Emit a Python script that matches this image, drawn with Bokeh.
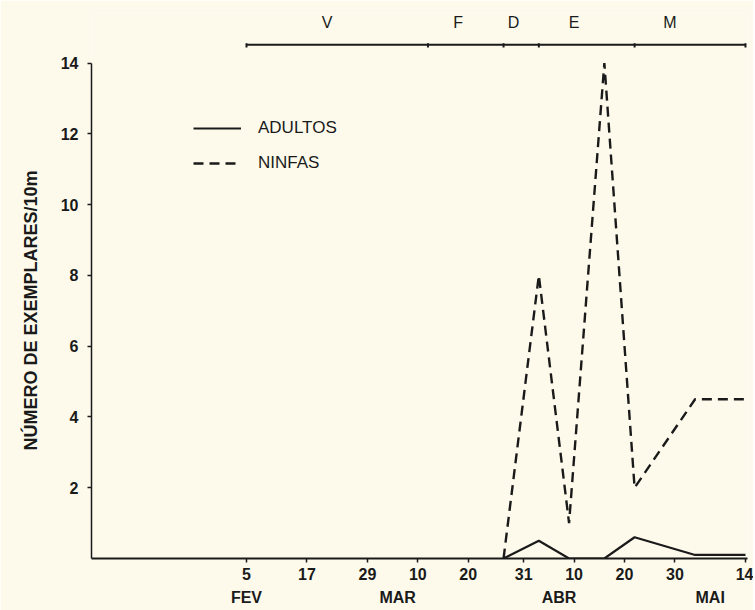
import pandas as pd
from bokeh.plotting import figure
from bokeh.models import FixedTicker, LinearAxis, Legend, LegendItem, Range1d, Title
from bokeh.core.properties import value
from bokeh.embed import file_html
from bokeh.resources import INLINE

# ---------------- data ----------------
YEAR_START = pd.Timestamp("1980-01-01")


def day(s):
    return (pd.Timestamp(s) - YEAR_START).days


sample_dates = ["1980-03-27", "1980-04-03", "1980-04-09", "1980-04-16",
                "1980-04-22", "1980-05-04", "1980-05-14"]
adultos = [0, 0.5, 0, 0, 0.6, 0.1, 0.1]
ninfas = [0, 8.0, 1.0, 14.0, 2.0, 4.5, 4.5]

tick_dates = ["1980-02-05", "1980-02-17", "1980-02-29", "1980-03-10", "1980-03-20",
              "1980-03-31", "1980-04-10", "1980-04-20", "1980-04-30", "1980-05-14"]
tick_labels = ["5", "17", "29", "10", "20", "31", "10", "20", "30", "14"]

month_dates = ["1980-02-05", "1980-03-06", "1980-04-07", "1980-05-07"]
month_labels = ["FEV", "MAR", "ABR", "MAI"]

stage_bounds = ["1980-02-05", "1980-03-12", "1980-03-27", "1980-04-03",
                "1980-04-22", "1980-05-14"]
stage_labels = ["V", "F", "D", "E", "M"]
stage_label_dates = ["1980-02-21", "1980-03-18", "1980-03-29", "1980-04-10", "1980-04-29"]

y_ticks = [2, 4, 6, 8, 10, 12, 14]
y_title = "NÚMERO DE EXEMPLARES/10m"

# ---------------- style / layout ----------------
BG = "#fdfaec"
INK = "#1a1a1a"
FONT = "Liberation Sans"
STAGE_Y = 14.52
STAGE_LABEL_Y = 15.15
STAGE_TICK = 0.08

sx = [day(d) for d in sample_dates]
tx = [day(d) for d in tick_dates]
mx = [day(d) for d in month_dates]
bx = [day(d) for d in stage_bounds]
lx = [day(d) for d in stage_label_dates]

p = figure(frame_width=656, frame_height=545,
           min_border_left=91, min_border_right=6, min_border_top=13, min_border_bottom=52,
           x_range=Range1d(4.25, 134.4), y_range=Range1d(0, 15.4),
           output_backend="svg", toolbar_location=None,
           background_fill_color=BG, border_fill_color=BG, outline_line_color=None)
p.xgrid.visible = False
p.ygrid.visible = False

# x axis (day ticks)
xa = p.xaxis[0]
xa.ticker = FixedTicker(ticks=tx)
xa.major_label_overrides = {t: l for t, l in zip(tx, tick_labels)}
xa.axis_line_width = 2
xa.axis_line_color = INK
xa.major_tick_line_color = INK
xa.major_tick_line_width = 1.5
xa.major_tick_in = 0
xa.major_tick_out = 4
xa.minor_tick_line_color = None
xa.major_label_standoff = 5
xa.major_label_text_font = FONT
xa.major_label_text_font_size = "16px"
xa.major_label_text_font_style = "bold"
xa.major_label_text_color = INK

# month axis below
ma = LinearAxis(ticker=FixedTicker(ticks=mx),
                major_label_overrides={t: l for t, l in zip(mx, month_labels)},
                axis_line_color=None, major_tick_line_color=None, minor_tick_line_color=None,
                major_tick_in=0, major_tick_out=0, major_label_standoff=6,
                major_label_text_font=FONT, major_label_text_font_size="16px",
                major_label_text_font_style="bold", major_label_text_color=INK)
p.add_layout(ma, "below")

# y axis
ya = p.yaxis[0]
ya.ticker = FixedTicker(ticks=y_ticks)
ya.bounds = (0, 14)
ya.axis_line_width = 1.5
ya.axis_line_color = INK
ya.major_tick_line_color = INK
ya.major_tick_line_width = 1.5
ya.major_tick_in = 0
ya.major_tick_out = 4
ya.minor_tick_line_color = None
ya.major_label_standoff = 9
ya.major_label_text_font = FONT
ya.major_label_text_font_size = "16px"
ya.major_label_text_font_style = "bold"
ya.major_label_text_color = INK

# y title as a side title, shifted so it is centred on the 0..14 span
p.add_layout(Title(text=y_title, align="left", offset=108, standoff=33,
                   text_font=FONT, text_font_size="18px", text_font_style="bold",
                   text_color=INK), "left")

# data lines
r_ad = p.line(sx, adultos, line_width=2.2, line_color=INK)
r_nf = p.line(sx, ninfas, line_width=2.4, line_color=INK, line_dash="10 6")

# stage bar on top
p.segment(x0=[bx[0]], x1=[bx[-1]], y0=[STAGE_Y], y1=[STAGE_Y], line_width=2, line_color=INK)
p.segment(x0=bx, x1=bx, y0=[STAGE_Y - STAGE_TICK] * len(bx), y1=[STAGE_Y + STAGE_TICK / 2] * len(bx),
          line_width=2, line_color=INK)
p.text(x=lx, y=[STAGE_LABEL_Y] * len(lx), text=stage_labels, text_align="center",
       text_baseline="middle", text_font=value(FONT), text_font_size="16px", text_color=INK)

# legend
legend = Legend(items=[LegendItem(label="ADULTOS", renderers=[r_ad]),
                       LegendItem(label="NINFAS", renderers=[r_nf])],
                location=(102, 385), orientation="vertical",
                glyph_width=48, glyph_height=20, label_height=20, spacing=15,
                label_standoff=17, padding=0, margin=0,
                border_line_color=None, background_fill_alpha=0,
                label_text_font=FONT, label_text_font_size="17px", label_text_color=INK)
p.add_layout(legend, "center")

open("out.html", "w").write(file_html(p, INLINE))
